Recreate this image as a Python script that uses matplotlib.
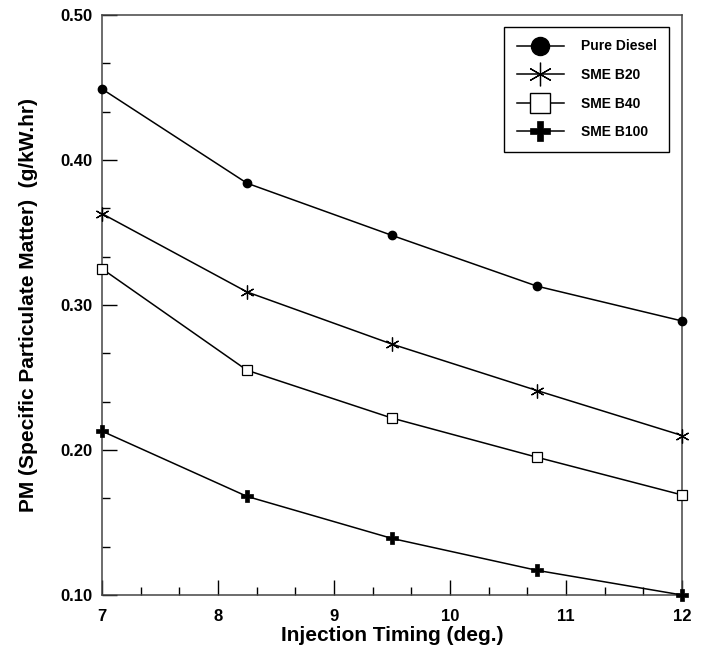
import matplotlib
matplotlib.use("Agg")
import matplotlib.pyplot as plt
from matplotlib.ticker import MultipleLocator, FormatStrFormatter
from matplotlib.lines import Line2D

timing = [7, 8.25, 9.5, 10.75, 12]
pure_diesel = [0.449, 0.384, 0.348, 0.313, 0.289]
sme_b20 = [0.363, 0.309, 0.273, 0.241, 0.210]
sme_b40 = [0.325, 0.255, 0.222, 0.195, 0.169]
sme_b100 = [0.213, 0.168, 0.139, 0.117, 0.100]
labels = ["Pure Diesel", "SME B20", "SME B40", "SME B100"]

plt.rcParams['font.family'] = ['Liberation Sans', 'DejaVu Sans']
plt.rcParams['font.weight'] = 'bold'

fig = plt.figure(figsize=(7.07, 6.53), dpi=100)
ax = fig.add_axes([102/707, 1-595/653, (682-102)/707, (595-15)/653])

ast = (6, 2, 0)
styles = [
    dict(marker='o', ms=6, mfc='black', mec='black'),
    dict(marker=ast, ms=10, mfc='none', mec='black', mew=0.9),
    dict(marker='s', ms=7, mfc='white', mec='black', mew=0.9),
    dict(marker='P', ms=8, mfc='black', mec='black', mew=0.5),
]
series = [pure_diesel, sme_b20, sme_b40, sme_b100]
for ys, st in zip(series, styles):
    ax.plot(timing, ys, color='black', lw=1.1, clip_on=False, zorder=3, **st)

ax.set_xlim(7, 12)
ax.set_ylim(0.10, 0.50)
ax.xaxis.set_major_locator(MultipleLocator(1))
ax.xaxis.set_minor_locator(MultipleLocator(1/3))
ax.yaxis.set_major_locator(MultipleLocator(0.1))
ax.yaxis.set_minor_locator(MultipleLocator(0.1/3))
ax.yaxis.set_major_formatter(FormatStrFormatter('%.2f'))
ax.tick_params(which='both', direction='in', top=False, right=False, color='black')
ax.tick_params(which='major', length=11, width=1, labelsize=12)
ax.tick_params(which='minor', length=6, width=1)
ax.tick_params(axis='x', which='major', pad=10)
ax.tick_params(axis='y', which='major', pad=7)
for lab in ax.get_xticklabels() + ax.get_yticklabels():
    lab.set_fontweight('bold')
for s in ax.spines.values():
    s.set_linewidth(1.1)
    s.set_color('#444444')

ax.set_xlabel("Injection Timing (deg.)", fontsize=15, fontweight='bold')
ax.xaxis.set_label_coords(0.5, -(626 - 595) / 580)
ax.set_ylabel("PM (Specific Particulate Matter)  (g/kW.hr)", fontsize=15, fontweight='bold', labelpad=16)

leg_styles = [
    dict(marker='o', ms=13, mfc='black', mec='black'),
    dict(marker=ast, ms=17, mfc='none', mec='black', mew=0.9),
    dict(marker='s', ms=15, mfc='white', mec='black', mew=1.0),
    dict(marker='P', ms=14, mfc='black', mec='black', mew=0.5),
]
handles = [Line2D([0], [0], color='black', lw=1.1, **st) for st in leg_styles]
leg = ax.legend(handles, labels, loc='upper right', bbox_to_anchor=(1 - 13/580, 1 - 12/580),
                borderaxespad=0, frameon=True, fancybox=False, edgecolor='black',
                prop={'weight': 'bold', 'size': 10}, handlelength=3.4, handletextpad=1.2,
                labelspacing=1.05, borderpad=0.9, framealpha=1)
leg.get_frame().set_linewidth(1.0)

fig.savefig("out.png", dpi=100)
